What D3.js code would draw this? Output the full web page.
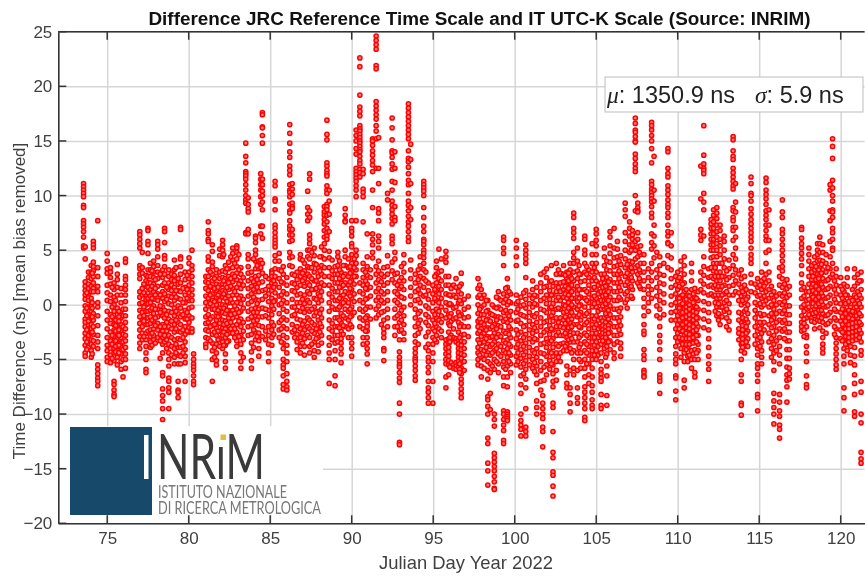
<!DOCTYPE html>
<html>
<head>
<meta charset="utf-8">
<script src="https://cdn.jsdelivr.net/npm/d3@7"></script>
<style>
html,body{margin:0;padding:0;background:#fff;overflow:hidden}
svg{display:block;font-family:"Liberation Sans",Arial,sans-serif;filter:blur(0.4px)}
.axis text{fill:#404040;font-size:17px}
.grid line{stroke:#d6d6d6;stroke-width:1.5}
.grid path{display:none}
</style>
</head>
<body>
<div id="chart"></div>
<script>
// each row: day, then the ns readings of that streak, top to bottom
var streaks74 = [
[73.55,11.1,10.8,10.5,10.2,9.9,9.1,8.9,7.7,7.4,7.1,6.7,6.2,5.4,5.2],
[73.65,5.3,4.2,2.1,1.7,1.3,.9,.5,-.1,-.6,-1.3,-1.6,-2,-2.6,-3.1,-3.7,-4.4,-4.7],
[73.85,3,2.5,1.9,1.5,1,.4,-.2,-.9,-1.5,-1.9,-2.2,-2.8,-3.2,-3.9],
[74.02,3.6,3,2.4,1.7,1.2,.6,0,-.6,-1.2,-1.8,-2.2,-2.6,-3.2,-3.6,-4.2,-4.8],
[74.15,5.8,5.5,5.2,3.9,3.5,3.1,2.6,2,1.5,1.2,-.8,-1.4,-2,-2.7,-3.3,-3.8],
[74.42,7.7,3.4,2.6,1.7,1.2,.2,-.2,-1,-1.9,-2.8,-3.4,-4,-5.5,-5.9,-6.3,-6.7,-7,-7.4],
[75,4.7,4,3.3,2.9,1.8,1.1,.4,-.6,-1.4,-2.2,-3,-3.7,-4.2,-4.8,-5.2],
[75.2,3.4,3,2.5,1.9,.9,.3,-.9,-1.7,-2.5,-3.3,-4,-4.6,-5.3],
[75.42,2,1.4,.7,0,-.6,-1.3,-1.8,-2.3,-2.9,-3.5,-4,-4.4,-5.1,-7,-7.3,-7.8,-8.2,-8.4],
[75.62,3.7,2.8,2.3,1.6,.9,-.3,-.9,-1.6,-2.1,-2.6,-3.1,-3.6,-4.2,-4.8,-5.5],
[75.85,1.5,.9,.2,-.6,-1.2,-1.8,-2.4,-3,-3.5,-3.9,-4.5,-5.2,-5.9],
[75.97,-.4,-1,-2,-2.7,-3.4,-4.1,-5,-6.6],
[76.12,4.2,3.9,2.6,2.3,1.8,1.4,.9,.3,-.4,-1,-1.6,-2.2,-2.8,-3.3,-3.9,-4.5,-5,-5.8],
[77,6.7,6.4,6,5.6,5.2,3.6,3.3,2.8,2.4,1.2,.7,.1,-.5,-1.1,-1.7,-2.3,-2.9,-3.5,-4],
[77.15,4.8,3.4,2.9,1.5,.9,.2,-.7,-1.4,-2,-2.6,-3.2],
[77.38,2.7,2.2,1.7,.9,.5,0,-.6,-1.2,-1.8,-2.6,-3.2,-3.8,-4.4,-5,-5.9,-6.2],
[77.5,7,6.8,5.8,5.5,4.7,3.2,2.6,2,1.6,1.1,.6,.1,-.6,-1.2,-1.8,-2.4],
[77.65,3.8,3.2,2.6,2,1.4,.8,.2,-.5,-1.1,-1.7,-2.3,-2.9,-3.4,-3.9],
[77.85,4,3.5,3,2.5,1.9,1.2,.5,-.1,-.8,-1.5,-2.2,-2.8,-3.2],
[78.1,5.8,5.5,5.1,4.4,3.6,3,2.4,1.7,1,.4,-.4,-1.1,-1.7,-2.3,-3],
[78.4,3.2,2.5,1.8,1.2,.6,-.2,-1,-1.8,-2.4,-3,-3.6,-4.4,-6.2,-6.5,-7.7,-8.3,-8.8,-9.5,-10.5],
[78.52,7,6.7,5.7,4.5,4.2,3.5,2.8,2,1,.3,-.5,-1.2,-2,-2.8,-3.4],
[78.78,3.2,2.6,2,1.4,.8,.1,-.6,-1.3,-2,-2.8,-3.6,-4.4,-5,-5.6,-6.7,-7,-7.6,-8,-9.5],
[78.95,2.8,2.3,1.8,1.3,.7,0,-.7,-1.5,-2.2,-3,-3.8,-4.6],
[79.12,4.1,3.2,2.7,2.2,1.6,1,.4,-.3,-1,-1.8,-2.5,-3.2,-4,-4.8,-5.4],
[79.35,2.4,1.9,1.3,.6,-.1,-.8,-1.6,-2.4,-3.1,-3.9,-4.6,-5.4,-7,-7.8,-8,-8.5],
[79.5,7.1,6.9,4.4,4.2,3.5,2.8,2,1.2,.5,-.3,-1.1,-1.8,-2.5,-3.2,-3.9,-4.7,-5.4],
[79.78,3,2.3,1.6,.9,.2,-.5,-1.3,-2,-2.7,-3.4,-4.1,-4.7,-5.3,-7],
[80.02,4.3,3.8,3,2.4,1.8,1.1,.4,-.3,-1,-1.6,-2.1,-2.5],
[80.2,5,3.6,3.2,2.6,2,1.4,.9,.4,-.2,-1.2,-2.2,-2.5],
[80.3,-4.5,-5,-5.4,-5.7,-6,-6.5,-7,-7.3]
];
var streaks81 = [
[81.05,2.6,2.1,1.5,.8,.2,-.4,-1.1,-1.7,-2.3,-3,-3.6,-3.9],
[81.2,7.6,6.8,6.5,6,5.8,4.4,4,3.2,2.6,2,1.3,.6,-.1,-.9,-1.6,-2.4,-3.1],
[81.45,5.5,4.9,3.9,3.5,2.8,2.2,1.6,1,.4,-.4,-1.1,-1.9,-2.7,-3.5,-4.2,-5,-7],
[81.7,3.2,2.6,1.9,1.3,.7,0,-.7,-1.4,-2.1,-2.8,-3.6,-4.4,-5.1,-5.5],
[81.9,5.1,4.5,3,2.4,1.8,1.1,.4,-.3,-1,-1.7,-2.4,-3.1,-3.8],
[82.08,5.9,5.5,5,4.4,3.1,2.5,1.9,1.3,.7,0,-.7,-1.4,-2.1,-2.8,-3.4,-4],
[82.25,3.6,3,2.4,1.8,1.2,.6,-.1,-.8,-1.5,-2.2,-3,-3.7,-4.5,-5.2,-5.8],
[82.45,3.9,3.3,2.6,2,1.4,.8,.2,-.5,-1.2,-1.9,-2.6,-3.3],
[82.7,5.2,4.7,4.1,3.4,2.8,2.1,1.5,.9,.2,-.5,-1.2,-1.9,-2.6],
[82.95,5.4,5.2,4.8,4.2,3.5,2.9,2.3,1.6,.9,.2,-.4,-1.1,-1.8,-2.5,-3.3,-3.8],
[83.2,3.4,2.8,2.2,1.5,.8,.1,-.6,-1.3,-2,-2.8,-3.6,-4.4,-5.2,-5.8],
[83.5,14.8,13.6,13,12.2,12,11.8,11.5,11,10.5,10,9.6,9.3,6.6,6.5],
[83.65,9.8,9.2,8.8,8.5,6.9,6.5,4.6,4.2,3.5,2.9,2.2,1.5,.8,.1,-.6,-1.3,-2,-2.8],
[83.85,3,2.4,1.7,1,.3,-.4,-1.1,-1.9,-2.7,-3.5,-4.3,-5.1,-5.8],
[84.1,6.3,6.1,5.7,5,4.6,4,3.3,2.6,1.9,1.2,.5,-.3,-1,-1.8,-2.5,-3.2],
[84.3,4,3.3,2.7,2,1.2,.4,-.4,-1.1,-1.9,-2.6,-3.3,-4,-4.7],
[84.42,12,11.5,11,10.5,9.9,9.2,7.2,6.5,4.1,3.4],
[84.52,17.6,17.4,16.3,16.2,15.5,14.8,11.5,11,10.4,10,9.4,8.7,7.2,6.1,3.8,2.9,2.1,1.3,.5,-.3,-1.1,-2,-2.9],
[84.9,2.4,1.7,1,.3,-.5,-1.2,-2,-2.8,-3.6,-4.4,-5.2],
[85.1,3.1,2.9,2.6,2,1.3,.6,-.1,-.9,-1.6,-2.3,-3,-3.7],
[85.3,11.3,10.9,9.7,9.5,8.7,7.3,7,6.6,6.2,5.9,5.6,5.3,4.5,4,3.3,2.6,1.9,1.1,.4],
[85.55,4.7,4,3.2,2.4,1.6,.8,0,-.8,-1.6,-2.3,-3],
[85.8,3.5,2.8,2,1.2,.4,-.4,-1.2,-2,-2.8,-3.5,-4,-5,-5.5,-5.8,-6.5,-7.3,-7.7],
[86.02,2.5,1.8,1,.2,-.6,-1.4,-2.2,-3,-3.7,-4.4,-5.2,-6.3,-7,-7.5,-7.8],
[86.2,16.5,15.7,14.8,14,13.5,12.7,12.3,11.9,11,10.5,10.3,9.9,9.2,8.6,8.4,7.7,7.2,6.9,6.4,5.8,4.8,4.3,3.6],
[86.35,11.1,10.6,10.1,9.3,9,8.8,6.9,6.4,5.9,4.4,3.5,2.8,2,1.3,.5,-.2,-1,-1.8,-2.5],
[86.65,3,2.3,1.6,.9,.2,-.5,-1.3,-2,-2.7,-3.4,-4.1],
[86.85,4.6,4.2,3.3,2.6,1.8,1,.2,-.6,-1.4,-2.2,-3,-3.8,-4.4],
[87.1,3.8,3.1,2.4,1.7,.9,.1,-.7,-1.5,-2.3,-3.1,-3.8,-4.6],
[87.3,10.4,8.9,8.3,7.7,5,4.4,3.5,2.8,2,1.2,.4,-.4,-1.2,-2,-2.8],
[87.42,12,11.5,8.6,8,6.4,6,5.6,5,4.2,3.4,2.6,1.8,1,.2,-.6,-1.4,-2.2,-3,-3.8,-4.4],
[87.7,5.2,4.5,3.8,3,2.2,1.4,.6,-.2,-1,-1.8,-2.6,-3.4,-4.2,-4.8],
[87.95,3.4,2.6,1.8,1,.2,-.6,-1.4,-2.2,-3,-3.7,-4.3],
[88.15,5.3,4.4,3.6,2.8,2,1.2,.4,-.4,-1.2,-2,-2.8,-3.5],
[88.32,9,8.5,8.2,7.8,7.4,6.8,6.2,5.6,5,4.2,3.4,2.6,1.8],
[88.48,16.9,15.6,15.1,13,12.7,12.3,12,11.8,10.9,10.5,10.2,9.2,9,8.7,8.2,7.6,7,6.6,6.3,6],
[88.62,10.5,9.5,8.3,6.7,4.9,4.3,3.4,2.6,1.8,1,.2,-.6,-1.4,-2.2,-3,-3.7,-4.4,-5,-7.2],
[88.98,3.5,2.8,2,1.2,.4,-.4,-1.2,-2,-2.8,-3.5,-4.2,-5,-6.5,-7.4],
[89.15,4.8,4.4,3.6,2.8,2,1.2,.4,-.4,-1.2,-2,-2.8,-3.4],
[89.35,3,2.3,1.6,.8,0,-.8,-1.6,-2.4,-3.1,-3.5,-4,-4.5,-5.3],
[89.6,8.8,8.2,7.7,7.6,5,4.4,3.6,2.8,2,1.2,.4,-.4,-1.2,-2],
[89.8,4.2,3.4,2.6,1.8,1,.2,-.6,-1.4,-2.2,-3],
[90,7.7,7,6.7,6.3,5.6,5.3,4.6,3.8,3,2.2,1.4,.6,-.2,-1,-2,-3,-3.5,-4,-4.7]
];
var streaks90 = [
[90.27,16,15.5,15,14.3,13.8,12.5,12.2,11.9,11.6,11.3,10.9,10.5,9.9,7.7,5,4.5,3.8,3.2,2.6],
[90.5,22.6,21.8,19.2,18.1,17.7,17.3,16.4,16.1,15.9,15.6,15.3,15,14.8,14.5,14.2,14,13.6,13.2,12.9,12.4,12.1,11.7,2,1.2,.4,-.4,-1.2,-2],
[90.7,12.4,12,10.6,10.3,9.9,7.6,3.8,3.2,2.5,1.8,1,.2,-.6,-1.4,-2.2,-3,-3.6],
[90.95,6.5,4.4,3.5,2.7,1.9,1.4,.6,-.2,-1,-1.7,-2,-2.4,-3,-3.5,-4,-4.5,-5.4],
[91.28,15.2,15,14.6,14.1,13.7,13.2,12.8,12.2,10.5,8.9,6.5,6,5.5,4.8,4.3],
[91.5,24.6,24.2,23.8,23.4,21.9,21.6,18.6,18.2,17.8,17.4,17,16.4,15.9,15.2,12.5,3.5,2.8,2,1.2,.4,-.4,-1.2],
[91.65,15.3,12.5,11.1,8.8,8.4,7.7,6.3,5.8,5.2,4,3.1,2.3,1.5,.7,-.1,-.9],
[91.97,3.4,2.6,1.8,1,.2,-.6,-1.4,-2.2,-2.6,-3,-4,-4.2,-5.1],
[92.2,10.2,9.6,4.5,3.5,2.8,2,1.2,.4,-.4,-1.2,-2],
[92.48,17.1,16.2,15.1,14.1,13.9,13.5,12.9,12.4,11.3,10.5,9.5,9.1,8.7,8.3,7.9,7.4,6.3,6,5.6,3.9,3.1,2.3],
[92.65,14,12.5,11.2,9,8,7.7,4.8,4.2,2.8,2,1.2,.4,-.4,-1.2,-2,-2.8],
[92.93,2.2,1.5,.8,0,-.8,-1.6,-2.4,-3.2,-4.3,-4.8,-5.2,-5.5,-5.7,-6.2,-6.7,-7.1,-9,-10,-12.6,-12.8],
[93.2,4.6,3.8,3,2.2,1.4,.6,-.2,-1,-1.8,-2.6,-3.2],
[93.48,18.4,18,17.6,17.2,16.8,16.4,16,15.6,15.2,14.1,13.4,13.1,12.6,12,11.4,11,10.2,9.5,9.1,8.6,8.1,7.6,7.2,6.7,6.2,5.8],
[93.62,14.7,13.3,11.1,8.9,7.8,4.1,3.2,2.4,1.6,.8,0],
[93.9,2.8,2,1.2,.4,-.4,-1.2,-2,-2.8,-3.4,-4,-4.4,-4.8,-5,-5.2,-5.6,-6,-6.5,-6.9],
[94.2,4.4,3.6,2.6,1.8,1,.2,-.6,-1.4,-2.2],
[94.42,11.3,11,10.7,10.4,10,8.9,8,7.2,6.7,6,5.8,5.5,5,4.7,4.3,3.8,3.2,2.4,1.6,.8],
[94.7,2,1.3,.5,-.3,-1.1,-1.9,-2.5,-3.6,-4.2,-4.8,-5.2,-5.7,-6.2,-7,-7.6,-8,-8.5,-9],
[94.98,1.8,1,.2,-.6,-1.4,-2.2,-3,-3.6,-4.4,-5.2,-7,-9],
[95.2,4,3.4,2.8,2,1.2,.4,-.4,-1.2,-2,-2.8,-3.4],
[95.35,5.1,3,2.4,1.7,1,.2,-.6,-1.4,-2.2],
[95.5,4.2,3.1,2.2,1.4,.6,-.2,-1,-1.6,-2.4,-3],
[95.78,4.9,4.4,3.9,2.6,1.8,1,.2,-.5,-1.2,-3.2,-3.6,-4,-4.5,-5,-5.4,-6.6,-7.6],
[95.95,2.6,1.8,.9,0,-.9,-1.7,-2.5,-3.1,-3.5,-3.9,-4.3,-4.7,-5.1,-5.5,-6.4],
[96.1,1.5,.8,0,-.8,-1.5,-2.8,-3.2,-5.3,-5.6],
[96.25,1.8,.9,-.3,-1.3,-2.2,-3,-5.5,-5.8],
[96.4,2.4,1.6,.7,-.2,-1.2,-3.1,-3.4,-5.3,-5.6,-5.9],
[96.55,1.2,.2,-.7,-1.6,-2.5,-3.2,-3.6,-4,-4.4,-4.8,-5.2,-5.7],
[96.72,2.9,1.9,1,.1,-.9,-1.8,-2.8,-3.3,-3.7,-4.1,-4.5,-4.9,-5.3,-5.8,-6.3,-6.8,-7.2,-7.7,-8.1,-8.5],
[96.9,.5,-.4,-1.2,-2,-2.7,-3.4,-4,-4.6,-5.2,-6],
[97.15,.8,-.2,-1.1,-2,-2.9],
[97.75,2.4,1.5,.7,0,-.8,-1.5,-2,-2.6,-3.2,-3.9,-4.4,-5,-5.5],
[97.95,1.4,.6,-.2,-.9,-1.6,-2.2,-2.9,-3.5,-4.1,-4.8,-5.6,-6.6],
[98.12,.9,0,-.9,-1.8,-2.6,-3.4,-4.2,-5,-5.8],
[98.35,.4,-.5,-1.3,-2.1,-2.9,-3.6,-4.4,-5.2,-6,-6.8,-8.4,-8.7,-9.3,-10,-12.2,-12.7,-14.5,-15.2,-16.5],
[98.5,-.8,-1.5,-2.2,-3,-3.8,-4.6,-5.4,-6.2,-8.1,-9.6],
[98.75,-.2,-1,-1.8,-2.6,-3.4,-4.2,-5,-5.9,-10,-10.5,-11.1,-13.6,-14,-14.4,-14.8,-15.2,-15.7,-16.2,-16.8,-16.9],
[99,1.2,.6,-.2,-1.1,-1.9,-2.7,-3.6,-4.5,-5.4,-6.2],
[99.15,.4,-.4,-1.2,-2,-2.9,-3.8,-4.7],
[99.32,6.2,5.9,5.2,4.7,3.6,1,.2,-.7,-1.5,-2.4,-3.3,-4.2,-5.2,-5.7,-6.6,-7.4,-9.7,-10,-10.5,-11,-11.5,-12.4,-12.7],
[99.55,2.4,1.6,.8,0,-.8,-1.6,-2.4,-3.2,-4,-4.8,-5.6,-6.6,-7.5,-9.8,-10,-10.2,-10.4,-10.6],
[99.75,1,.2,-.6,-1.4,-2.2,-3,-3.8,-4.6,-5.4,-6.2],
[100.1,5.9,5.2,4.4,3.6,.9,.1,-.7,-1.5,-2.3,-3.1,-3.9,-4.7,-5.5],
[100.38,.7,-.1,-.9,-1.7,-2.5,-3.3,-4.1,-4.9,-5.7,-6.5,-7.3,-8.1,-10,-10.6,-11,-11.4,-12],
[100.68,5.5,5,4.6,4.2,3.8,2.5,1.3,.5,-.3,-1.1,-1.9,-2.7,-3.5,-4.3,-5.1,-5.9,-6.8,-7.6,-9.5,-11.2,-11.6,-12],
[100.9,.9,.1,-.7,-1.5,-2.3,-3.1,-3.9,-4.7,-5.5],
[101.1,2.2,1.4,.6,-.2,-1,-1.8,-2.6,-3.4,-4.2,-5,-5.8],
[101.35,1.6,.8,0,-.8,-1.6,-2.4,-3.2,-4,-4.8,-5.6,-6.4,-7.2,-8.8,-9.4,-10],
[101.6,2.8,2,1.2,.4,-.4,-1.2,-2,-2.8,-3.6,-4.4,-5.2,-6,-7,-7.8],
[101.72,-8.3,-9,-9.5,-10,-10.4,-11.2,-11.6,-13],
[101.95,3.3,2.5,1.7,.9,.1,-.7,-1.5,-2.3,-3.1,-3.9,-4.7,-5.5,-6.4],
[102.15,2.1,1.3,.5,-.3,-1.1,-1.9,-2.7,-3.5,-4.3,-5.1,-5.9],
[102.35,1.7,.9,.1,-.7,-1.5,-2.3,-3.1,-3.9,-4.7,-5.5,-6.3,-7,-7.5,-9,-9.4,-11.6,-13.5,-14,-15.3,-15.6,-16.6,-17.5],
[102.55,3.8,2.8,2,1.2,.4,-.4,-1.2,-2,-2.8,-3.6,-4.4,-5.2,-6,-6.9],
[102.8,2.8,2.9,2,1.2,.4,-.4,-1.2,-2,-2.8,-3.6,-4.4,-5.2],
[103,3.6,2.8,2.1,1.4,.7,0,-.7,-1.4,-2.1,-2.8,-3.5,-4.2],
[103.2,3,2.4,1.8,1.2,.6,0,-.6,-1.2,-1.8,-2.4,-3,-3.6,-4.2,-5.6,-6.4,-7.2,-7.6],
[103.4,3.8,3.2,2.6,2,1.4,.8,.2,-.4,-1,-1.6,-2.2,-2.8,-3.4,-4,-6,-7.6,-8.2,-9,-9.8],
[103.62,8.4,8,7,6.6,6.1,4.8,4.3,3.8,3,2.2,1.4,.6,-.2,-1,-1.8,-2.6,-3.4,-4.2,-5,-5.8,-6.4],
[103.85,5.2,4,3.1,2.4,1.7,1,.3,-.4,-1.1,-1.8,-2.6,-3.4,-4.4,-6,-7.6,-8.5,-9],
[104.05,2.8,2.1,1.4,.7,0,-.7,-1.4,-2.1,-2.8,-3.6,-4.4,-5.2,-5.8],
[104.3,6.3,6,5,4.6,3.8,3,2.2,1.4,.6,-.2,-1,-1.8,-2.6,-3.4,-4.2,-5,-5.8,-6.6,-7.5,-8,-8.5,-9,-9.5,-10.3,-10.6],
[104.55,3.2,2.5,1.8,1,.2,-.6,-1.4,-2.2,-3,-3.8,-4.6,-5.4,-6.4,-7.2],
[104.75,5.6,4.6,3.8,3,2.2,1.4,.6,-.2,-1,-1.8,-2.6,-3.4,-4.2,-5,-5.8,-6.6,-7.4,-8,-8.7,-9.2,-9.5]
];
var streaks105 = [
[105,6.9,6.5,5.9,5.4,4.6,3.8,3,2.2,1.4,.6,-.2,-1,-1.8,-2.6,-3.4,-4.2,-5],
[105.12,1.8,1,.2,-.6,-1.4,-2.2,-3,-3.8,-4.6],
[105.3,2.8,2,1.2,.4,-.4,-1.2,-2,-2.8,-3.6,-4.4,-5.2,-5.9,-6.3,-6.7,-7,-8.2,-9.2,-9.5],
[105.5,5.2,4.4,3.6,2.8,2,1.2,.4,-.4,-1.2,-2,-2.8,-3.4,-4],
[105.65,4,3.2,2.5,1.8,1.1,.4,-.3,-1,-1.7,-2.4,-3.1,-3.8,-4.5,-5.6,-6.5,-8.3,-9.2],
[105.85,6.7,6.2,5.4,4.7,3.9,3.1,2.3,1.5,.7,-.1,-.9,-1.7,-2.5,-3.3,-4.1],
[106.1,7,5.2,4.3,3.5,2.8,2,1.2,.4,-.4,-1.2,-2,-2.8,-3.6,-4.4,-4.9],
[106.3,5.8,5.1,4.4,3.6,2.8,2,1.2,.4,-.4,-1.2,-2,-2.8,-3.4],
[106.5,4.5,3.7,2.9,2.1,1.3,.5,-.3,-1.1,-1.9,-2.7,-3.5,-4,-4.7],
[106.78,9.3,8.7,8.1,6.6,5.8,5,4.2,3.4,2.6,1.8,1,.2],
[107.05,7.6,7,6.3,5.5,4.8,4,3.2,2.4,1.6],
[107.22,6.8,6.4,6,5.5,5.1,3.9,3,2.2,1.4,.6],
[107.4,17.1,16.6,16,15.8,15.4,15,14.9,13.8,13.4,12.9,12.5,12.2,10,8.6,5.8,5,4.2,3.4],
[107.55,9.3,8.9,8.6,8.5,6.6,6,5.3,4.4,3.6,2.8,2],
[107.72,5.4,4.6,3.8,3,2.2,1.5],
[107.93,4.6,3.8,3,2.2,1.4,.6,-.2,-1,-1.8,-2.4,-2.7,-4.1,-4.6,-5,-6,-6.2,-6.5,-6.6],
[108.4,16.7,16.4,16,15.5,15,14.3,13,11.3,11,10.6,10.3,10,9.7,9.4,9,8.4,8,6.5,5.7,5.1,3.8,3,2.2,1.4,.6],
[108.55,13.6,10.5,9.5,7.3,6.3,5.4,4.3],
[108.9,4.4,3.6,2.8,2,1.2,.4,-.4,-1.2,-2,-2.8,-3.4,-4.1,-5,-6.4,-6.7,-7,-8.1],
[109.4,14.3,14,12.5,12,11.7,10.9,10.5,10.1,9.6,9.2,8.9,8.4,8,7.3,6.7,6.3,5.7,5.6,4.5,3.4],
[109.6,6.6,5.4,4.3,3.2,2.4,1.6,.8,0,-.7,-1.4],
[109.88,2.6,1.8,1,.2,-.6,-1.4,-2.2,-3,-3.8,-4.5,-5,-5.4,-6.5,-6.7,-7.9,-8.7],
[110,3,2.2,1.4,.6,-.2,-1,-1.8,-2.6,-3.4],
[110.2,4,3.2,2.4,1.6,.8,0,-.8,-1.6,-2.4,-3.2,-4,-4.8],
[110.4,4.4,3.6,2.8,2,1.2,.4,-.4,-1.2,-2,-2.8,-3.6,-4.4,-5.2,-6.9,-7.6],
[110.62,.9,.1,-.7,-1.5,-2.3,-3.1,-3.9,-4.7,-5.2],
[110.85,3.8,3,2.2,1.4,.6,-.2,-1,-1.8,-2.6,-3.4,-4.2,-5,-5.8],
[111.05,1.5,.7,-.1,-.9,-1.7,-2.5,-3.3,-4.1,-5,-6.2,-6.6],
[111.25,1.2,.4,-.4,-1.2,-2,-2.8,-3.6,-4.2,-5],
[111.42,12.7,9.7,6.9,6.4,5.9,3,2.2,1.4],
[111.6,16.4,13.7,12.9,12.5,12.3,12,10.2,9.4,8.7,6.3,4.4,3.5,2.7,1.9,1.1,.3,-.5,-1.3,-2.1],
[111.9,3.3,2.5,1.7,.9,.1,-.7,-1.5,-2.3,-3.1,-3.9,-4.7,-5.4,-5.9,-7],
[112.05,7.8,7.4,7,6.5,6,5.5,5,4.3,3.4,2.6,1.8,1],
[112.2,8.7,8.2,7.6,7,6.5,6,5.5,5,4.4,3.8,3.1,2.4,1.6,.8],
[112.4,8.9,8.4,7.9,7.3,6.7,6.2,5.6,5,4.4,3.8,3,2.2,1.4,.6,-.2,-1],
[112.6,7.3,6.8,6,5.4,4.6,3.8,3,2.2,1.4,.6,-.2,-1,-1.8],
[112.85,6.3,5.8,5,4.2,3.4,2.6,1.8,1,.2,-.6],
[113.15,4.1,3.3,2.5,1.7,.9,.1,-.7,-1.5,-2.3],
[113.4,15.4,15.1,14.1,13.6,13.3,12.5,12.1,11.7,11.3,10.9,10.6,8.9,8.6,8,7.7,7.1,6.8,5.9,4.6,3.6,2.7,1.8,.9],
[113.55,11.1,9.4,8.5,7.1,6.2,5.2,4.2,3.2,2.2,1.2],
[113.9,3.2,2.4,1.6,.8,0,-.8,-1.6,-2.4,-3,-3.6,-4.2,-5,-6.4,-7,-9,-9.2,-10.1],
[114.1,2.6,1.8,1,.2,-.6,-1.4,-2.2,-3,-3.8,-4.4],
[114.3,.7,0,-.8,-1.6,-2.4,-3.1,-3.8],
[114.5,11.7,11.1,10.2,10,9.5,8.8,8.3,7.8,7.4,7,6.6,6.2,5.8,5.2,4.6,4.2,3.8,2.8,2,1.2],
[114.9,2.4,1.6,.8,0,-.8,-1.6,-2.4,-3.2,-4,-4.6,-5.4,-5.8,-6.4,-7,-8.2,-8.5,-9.7],
[115.15,3,2.2,1.4,.6,-.2,-1,-1.8,-2.6,-3.4,-4.2,-4.8,-5.4],
[115.42,11.6,11.2,10.5,10.1,9.7,9.2,8.6,8.2,7.8,7.3,6.8,6.3,5.9,4.8,3.8,2.8,2,1.2,.4],
[115.6,8.7,7.3,5.9,5,3,2.2,1.4,.6,-.2,-1,-1.8,-2.6,-3.4],
[115.9,1.2,.4,-.4,-1.2,-2,-2.8,-3.6,-4.4,-5.2,-6,-8.1,-8.8,-9.4,-10,-10.9],
[116.25,3.4,2.6,1.8,1,.2,-.6,-1.4,-2.2,-3,-3.8,-4.6,-5.4,-8.2,-8.9,-9.7,-10.2,-11,-11.4,-12.2],
[116.42,9.6,8.5,8,6.9,6.5,6,5.5,5,4.5,4,3.5,3.1,2.4,1.6,.8,0,-.8,-1.6,-2.4],
[116.7,2.3,1.5,.7,-.1,-.9,-1.7,-2.5,-3.3,-4.1,-4.9,-5.7,-6.4,-6.9,-7.5,-8.9],
[116.85,1.7,.9,-.1,-.9,-1.7,-2.5,-3.3,-4.1,-4.9,-5.8,-6.3,-6.8],
[117.6,7.1,6.9,6.1,5.6,5.2,4.7,4.2,3.6,2.8,2,1.4,.6,-.2,-1,-1.6,-2,-2.4],
[117.9,1.2,.4,-.4,-1.2,-2,-2.8,-3,-3.8,-4.4,-5.2,-6.5,-7.3,-7.6],
[118.05,5.2,4.6,4,3.3,2.6,1.9,1.2,.5,-.2,-.9],
[118.22,3.6,3,2.3,1.6,.9,.2,-.5,-1.2,-1.5],
[118.4,4.4,3.8,3.2,2.6,2,1.4,.8,.2,-.4,-1,-1.6,-2.2],
[118.58,5.6,5,4.6,4,3.4,2.8,2.2,1.6,1,.4,-.2,-.8,-1.4],
[118.72,6.2,5.6,4.8,4.1,3.4,2.7,2,1.3,.6,-.1,-.8,-1.5,-2.1],
[118.9,5.5,4.8,4,3.2,2.4,1.6,.8,0,-.8,-1.6,-2.4,-3,-3.6,-4,-4.4],
[119.1,4.6,3.8,3,2.2,1.4,.6,-.2,-1,-1.8,-2.6],
[119.35,11,10.5,8.6,7.7,5.8,4.4,3.3,2.5,1.7,.9,.1,-.7,-1.5],
[119.5,15.2,14.5,13.4,11.4,10.7,10,9.5,8.7,8.5,8,7,6.6,6,5.2,5,3.8,2.8],
[119.72,3.3,2.6,1.8,1,.2,-.6,-1.4,-2.2,-3,-3.5,-4,-4.5,-5,-5.5,-5.9],
[120,2.5,1.7,.9,.1,-.7,-1.5,-2.3,-3.1],
[120.2,1.9,1.2,.4,-.4,-1.2,-2,-2.6,-3.2,-4,-4.7,-5.4,-7.6,-8.5,-9.7],
[120.4,3.3,2.5,1.7,.9,.1,-.7,-1.5,-2.3,-3,-3.6,-4.2],
[120.6,.6,-.2,-1,-1.8,-2.4,-3,-3.8,-4.6,-5.3],
[120.85,3.3,2.5,1.7,.9,.1,-.7,-1.5,-2.3,-3.1,-3.9,-4.7,-5.5,-6.4,-7.2,-8.2,-9.8,-10.2],
[121.05,2.8,2,1.2,.4,-.4,-1.2,-2,-2.8],
[121.25,3,2.2,1.4,.6,-.2,-1,-1.8,-2.6,-3.4,-4.2,-4.6,-7,-8,-10,-10.8,-13.5,-14.1,-14.5]
];
// second pass over the crowded band, where the streaks run into blobs
var crowded = [
[73.75,1.1,-.3,-1,-2.3,-3.4,-4.1],
[74.08,2.9,.2,-.3,-1.1,-2.5,-4.5],
[75.3,1.6,-.2,-1.1,-2.8,-3.6,-4.9],
[75.52,.4,-1.4,-1.9,-2.4,-3.3,-3.8,-4.3],
[75.72,-.6,-1.1,-1.5,-2.3,-2.8,-3.7,-4.4],
[77.25,1.9,1.1,-.2,-1,-1.5,-2.9],
[77.75,3.1,1.7,.6,-.3,-1.4,-2.6,-3.7],
[77.95,2.3,1.5,.9,-.4,-1.2,-1.9,-3.5],
[78.25,2.8,.9,-.1,-.7,-2,-2.7,-3.3,-4.9],
[78.65,1.6,.5,-.9,-1.6,-2.4,-3.2,-4],
[79.22,3.4,1.3,.7,-.6,-1.4,-2.2,-3.6,-4.4],
[79.65,1.5,.2,-.9,-2.3,-3,-3.8,-4.4],
[79.9,2.7,1.4,.6,-.7,-1.3,-2.4],
[81.32,3,1.7,.9,.1,-1.3,-2,-3.3],
[81.58,2.4,1.5,.3,-.4,-1.8,-2.5,-3.9,-4.8],
[81.8,1.6,.9,-.5,-1.1,-2.4,-3.2],
[82.15,4.6,2.2,1,-.3,-1.8,-2.5,-3.7],
[82.35,3.3,1.6,.3,-.5,-1.7,-2.7,-3.4],
[82.58,4.4,2.4,1.7,.5,-.9,-1.6,-2.2],
[82.82,3.8,2.6,1.2,-.1,-.8,-2.2,-3],
[83.08,4.6,3.2,1.9,.6,-.7,-1.5,-2.9],
[83.35,2.5,1.8,.5,-.3,-1.6,-2.4,-3.2,-4.8],
[83.98,4.2,2.1,1.4,.7,-.7,-1.5,-2.3,-3.9],
[84.2,3.6,2.3,1.6,.1,-.7,-1.4,-2.9],
[84.72,2.6,1.4,.8,-.4,-1,-2.4,-3.2],
[85.22,2.2,1.6,.3,-.4,-1.9,-2.7],
[85.68,3.1,2.1,.9,.1,-1.4,-2.2,-3.4],
[86.5,2.7,1.9,1.2,-.2,-.9,-2.3,-3],
[86.98,4.1,2.9,2.2,.5,-.3,-1.8,-2.6,-3.5],
[87.55,4.8,3.4,2.4,1.4,-.4,-1.6,-2.4,-3.6],
[87.82,3.7,2.2,1.5,.5,-.7,-2.2,-3.1],
[88.05,4.4,3.1,1.6,.8,-.8,-1.7,-2.5],
[88.8,4.1,3.1,2.4,1.5,.7,-.2,-1.7,-2.4,-3.2],
[89.25,4,3.2,2.4,1.6,.6,-.2,-1.4,-2.1],
[89.48,3.6,2.6,1.8,.9,.2,-1,-1.9,-2.7],
[89.9,3.5,2.9,2.1,1.5,.8,-.4,-1.1,-1.8],
[90.15,4.2,3.4,2.6,1.9,1,.3,-.7],
[90.85,3,2.2,1.5,.5,-.4,-1.2,-2.4],
[91.15,3.2,2.5,1.6,.8,-.2,-1.3],
[91.82,2.8,2.1,1.2,.4,-.7,-1.8],
[92.8,2.9,1.8,1,.2,-1,-2],
[93.05,3.5,2.5,1.7,.7,-.5,-1.4,-2.3],
[94.08,3.2,2.3,1.4,.5,-.8,-1.7,-2.6,-3.6],
[94.55,3,2.2,.9,-.1,-.9,-1.6,-2.9,-3.9],
[95.1,2.6,1.4,.6,-.9,-1.7,-2.4,-3.2],
[96.02,.9,.1,-1.1,-1.9,-3,-3.4,-5.7],
[96.62,1.7,.4,-1,-2,-3,-5.4,-5.9,-6.2],
[97.85,1.8,.9,-.4,-1.3,-2.4,-3.5,-4.6],
[98.25,.4,-.6,-1.4,-2.3,-3.1,-3.9,-4.6],
[98.62,0,-.9,-2,-2.9,-3.6,-4.4,-5.6],
[98.88,.7,-.3,-1.4,-2.2,-3,-4,-5.2],
[99.45,1.5,.5,-.5,-1.3,-2.6,-3.5,-4.4,-5.9],
[99.65,1.2,.3,-1,-2,-2.7,-3.6,-4.4,-5.2],
[100.2,.3,-.4,-1.4,-2.7,-3.6,-4.4,-5.2],
[100.55,1.1,0,-1,-2,-3,-3.8,-4.6,-5.4,-6.3],
[101.22,.9,.1,-1.1,-2.1,-3.1,-4.4,-5.3,-6.1],
[101.8,3,1.6,.6,-.5,-1.6,-2.5,-3.5,-4.5,-5.7,-6.9],
[102.25,3.6,2.2,.9,-.2,-1,-2.2,-3.3,-4.4,-5.4],
[102.68,3.2,1.6,.7,-.3,-1.6,-2.5,-3.8,-4.8],
[103.1,2.7,1.7,1,-.1,-1.1,-1.7,-2.6,-3.8],
[103.3,2.9,2.2,1.5,.9,.2,-.3,-1.4,-2.1,-3.2],
[103.5,2.4,1.8,1.2,.6,0,-.7,-1.3,-2,-3.1,-4.4],
[103.95,3.6,2.8,1.4,.6,-.1,-.9,-2,-3,-3.9,-5],
[104.42,3.5,2.8,1.2,.4,-.8,-1.6,-2.8,-3.6,-4.4,-5.4],
[104.88,3.4,2.5,1.6,.8,.1,-1.3,-2.1,-3,-3.7,-4.6],
[105.4,2.4,1.6,.8,-.1,-1.5,-1.9,-2.3,-2.6,-3,-3.3],
[105.58,1.7,.9,.1,-.8,-1.6,-2,-2.4,-2.7,-3,-4.8],
[105.75,2.1,1.2,.4,-.5,-1.3,-1.9,-2.2,-2.6,-3.4],
[106.4,4,3.1,2.4,1.6,.7,-.6,-1.5,-2.3],
[106.9,3.7,2.9,2.1,1.2,.5,-.3],
[107.15,5,3.4,2.5,1.7,.8],
[107.65,4.8,3.2,2.4,1.7],
[108.2,3.3,2.5,1.7,1,.2,-.6],
[108.72,4.8,3.2,2.5,1.6,.8,-.1,-1],
[109.15,3.8,2.7,1.9,1,.2,-.9],
[110.1,2.5,1.7,.6,-.3,-1.4,-2.2,-3],
[110.3,1.9,.9,.1,-.7,-1.2,-1.8,-2.4,-3.1,-3.6],
[110.52,1.4,.5,-.2,-.6,-1.1,-1.6,-2.1,-2.6,-3.1,-3.6,-4.1],
[110.72,.8,0,-.4,-.9,-1.3,-1.8,-2.2,-2.7,-3.1,-3.6,-4.6],
[110.95,1,.2,-.6,-1,-1.4,-2,-2.4,-3,-3.5,-4.5],
[111.15,.6,-.2,-.7,-1.2,-1.7,-2.3,-2.8,-3.4,-4.4],
[112.3,3.4,2.6,1.8,.9,.2,-.6],
[112.5,2.6,1.7,.9,.1,-.8,-1.4],
[112.72,3.8,2.6,1.7,.9,-.2,-1.1],
[113,3.1,2.3,1.2,.4,-.4,-1.2,-2],
[113.75,2.8,1.9,1.1,.4,-.7,-1.4,-2.2,-2.6,-3.2],
[113.98,1.2,.4,-1.2,-1.9,-2.3,-2.7,-3.1,-3.5,-3.9],
[114.2,1.4,.5,-.4,-1.3,-2,-2.6,-3.4],
[114.75,1.9,1.1,.2,-.5,-1.2,-2,-2.8,-3.6],
[115.05,1.8,.9,.1,-.8,-1.6,-2.2,-3,-3.8],
[115.3,2.4,1.7,.8,0,-.9,-1.6,-2.3],
[115.75,1.7,.9,0,-.8,-1.4,-2.1,-3.1,-4,-4.8],
[116.05,.8,0,-.8,-1.6,-2.4,-3.3,-4.2],
[116.55,1.9,1.1,.3,-.5,-1.4,-2.2,-3.1],
[117.75,1.6,.8,0,-.6,-1.3,-1.7,-2.3,-2.9],
[118.3,2.6,1.9,1.3,.7,.1,-.8],
[118.48,3.5,2.3,1.7,1.1,.5,-.1,-.7],
[118.65,3.2,2.4,1.4,.7,.1,-.5,-1.1],
[118.82,3.7,2.9,1.9,1.1,.3,-.5,-1.2],
[119.22,3.4,2.3,1.5,.7,-.1,-.9,-1.7],
[119.62,2.2,1.4,.5,-.4,-1.2,-2,-2.7],
[120.1,1.4,.6,-.4,-1.1,-1.8,-2.5,-3.3],
[120.3,.9,.1,-.8,-1.5,-2.2,-2.9,-3.6],
[120.5,.3,-.5,-1.2,-1.8,-2.2,-2.6,-3,-3.4],
[120.72,1.4,.4,-.6,-1.3,-1.7,-2.1,-2.5,-2.9,-3.3],
[120.95,.7,-.2,-1,-1.6,-2,-2.4,-2.8,-3.2],
[121.15,2.2,.9,.1,-.8,-1.6,-2.3,-3]
];
var xTicks = [75,80,85,90,95,100,105,110,115,120];
var yTicks = [-20,-15,-10,-5,0,5,10,15,20,25];
var titleText = "Difference JRC Reference Time Scale and IT UTC-K Scale (Source: INRIM)";

var width = 865, height = 576;
var margin = {top: 31.7, right: 0.4, bottom: 52.7, left: 58.3};
var w = width - margin.left - margin.right, h = height - margin.top - margin.bottom;

var x = d3.scaleLinear().domain([72, 72 + w / 16.3]).range([0, w]);
var y = d3.scaleLinear().domain([-20, 25]).range([h, 0]);

var points = streaks74.concat(streaks81, streaks90, streaks105, crowded).flatMap(function(row){
    return row.slice(1).map(function(v){ return {day: row[0], ns: v}; });
});

var svg = d3.select("#chart").append("svg").attr("width", width).attr("height", height);
svg.append("rect").attr("width", width).attr("height", height).attr("fill", "#fff");
var g = svg.append("g").attr("transform", "translate(" + margin.left + "," + margin.top + ")");

// grid
g.append("g").attr("class", "grid").attr("transform", "translate(0," + h + ")")
    .call(d3.axisBottom(x).tickValues(xTicks).tickSize(-h).tickFormat(""));
g.append("g").attr("class", "grid")
    .call(d3.axisLeft(y).tickValues(yTicks).tickSize(-w).tickFormat(""));

// readings
g.append("g").selectAll("circle").data(points).enter().append("circle")
    .attr("cx", function(d){ return x(d.day); })
    .attr("cy", function(d){ return y(d.ns); })
    .attr("r", 2.1)
    .attr("fill", "#ff8080")
    .attr("stroke", "#ff0000")
    .attr("stroke-width", 1.5);

// axes
var xAxis = g.append("g").attr("class", "axis").attr("transform", "translate(0," + h + ")")
    .call(d3.axisBottom(x).tickValues(xTicks).tickSize(0).tickPadding(9));
var yAxis = g.append("g").attr("class", "axis")
    .call(d3.axisLeft(y).tickValues(yTicks).tickSize(0).tickPadding(6));
svg.selectAll(".axis path").attr("stroke", "#333").attr("stroke-width", 1.6);

// inward ticks, top and bottom and left
xTicks.forEach(function(t){
    g.append("line").attr("x1", x(t)).attr("x2", x(t)).attr("y1", 0).attr("y2", 8).attr("stroke", "#333").attr("stroke-width", 1.5);
    g.append("line").attr("x1", x(t)).attr("x2", x(t)).attr("y1", h).attr("y2", h - 8).attr("stroke", "#333").attr("stroke-width", 1.5);
});
yTicks.forEach(function(t){
    g.append("line").attr("x1", 0).attr("x2", 8).attr("y1", y(t)).attr("y2", y(t)).attr("stroke", "#333").attr("stroke-width", 1.5);
});
g.append("line").attr("x1", 0).attr("x2", w).attr("y1", 0).attr("y2", 0).attr("stroke", "#333").attr("stroke-width", 1.6);

// title and labels
svg.append("text").attr("x", 479.5).attr("y", 25).attr("text-anchor", "middle")
    .attr("font-size", 18.9).attr("font-weight", "bold").attr("fill", "#111").text(titleText);
svg.append("text").attr("x", 466).attr("y", 569).attr("text-anchor", "middle")
    .attr("font-size", 18.4).attr("fill", "#404040").text("Julian Day Year 2022");
svg.append("text").attr("transform", "translate(25,301) rotate(-90)").attr("text-anchor", "middle")
    .attr("font-size", 17).attr("fill", "#404040").text("Time Difference (ns) [mean bias removed]");

// stats box
svg.append("rect").attr("x", 605).attr("y", 77).attr("width", 258).attr("height", 35)
    .attr("fill", "#fff").attr("stroke", "#bdbdbd").attr("stroke-width", 1);
var stat = svg.append("text").attr("x", 607).attr("y", 103).attr("font-size", 23.5).attr("fill", "#222");
stat.append("tspan").attr("font-family", "Liberation Serif").attr("font-style", "italic").text("\u03bc");
stat.append("tspan").text(": 1350.9 ns");
stat.append("tspan").attr("x", 755).attr("font-family", "Liberation Serif").attr("font-style", "italic").text("\u03c3");
stat.append("tspan").text(": 5.9 ns");

// INRIM logo
var logo = svg.append("g");
logo.append("rect").attr("x", 67).attr("y", 426).attr("width", 256).attr("height", 89).attr("fill", "#fff");
logo.append("rect").attr("x", 70).attr("y", 427).attr("width", 82).attr("height", 88).attr("fill", "#17496a");
logo.append("rect").attr("x", 144).attr("y", 435).attr("width", 4.5).attr("height", 44).attr("fill", "#fff");
logo.append("text").attr("x", 157).attr("y", 479).attr("font-family", "Lato").attr("font-weight", 400)
    .attr("font-size", 61).attr("fill", "#3a3a3a").attr("textLength", 108).attr("lengthAdjust", "spacingAndGlyphs").text("NRiM");
logo.append("rect").attr("x", 218).attr("y", 430).attr("width", 10).attr("height", 15).attr("fill", "#fff");
logo.append("rect").attr("x", 220.5).attr("y", 434.5).attr("width", 5.5).attr("height", 5.5).attr("fill", "#e0c040");
logo.append("text").attr("x", 158).attr("y", 498).attr("font-family", "Lato").attr("font-size", 18)
    .attr("fill", "#777").attr("textLength", 129).attr("lengthAdjust", "spacingAndGlyphs").text("ISTITUTO NAZIONALE");
logo.append("text").attr("x", 158).attr("y", 514).attr("font-family", "Lato").attr("font-size", 18)
    .attr("fill", "#777").attr("textLength", 163).attr("lengthAdjust", "spacingAndGlyphs").text("DI RICERCA METROLOGICA");
</script>
</body>
</html>
